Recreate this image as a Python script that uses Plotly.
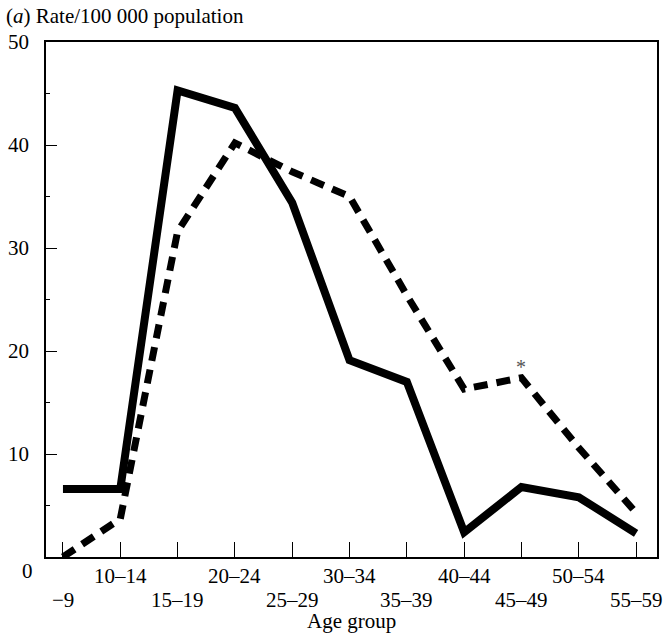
import plotly.graph_objects as go

age_groups = ["−9", "10–14", "15–19", "20–24", "25–29", "30–34",
              "35–39", "40–44", "45–49", "50–54", "55–59"]
solid_rate = [6.6, 6.6, 45.3, 43.6, 34.4, 19.1, 17.0, 2.4, 6.8, 5.8, 2.3]
dashed_rate = [0.0, 3.7, 31.6, 40.2, 37.4, 35.0, 25.4, 16.3, 17.4, 10.6, 4.3]
y_ticks = [10, 20, 30, 40, 50]

FONT = "Liberation Serif"
FS = 21
idx = list(range(len(age_groups)))

W, H = 665, 638
L, R, T, B = 46, 6, 42, 81
PH = H - T - B
PW = W - L - R

fig = go.Figure()
fig.add_trace(go.Scatter(x=idx, y=solid_rate, mode="lines",
                         line=dict(color="black", width=8), showlegend=False))
fig.add_trace(go.Scatter(x=idx, y=dashed_rate, mode="lines",
                         line=dict(color="black", width=7, dash="14px,9px"),
                         showlegend=False))

fig.update_layout(
    width=W, height=H,
    margin=dict(l=L, r=R, t=T, b=B),
    paper_bgcolor="white", plot_bgcolor="white",
    font=dict(family=FONT, size=FS, color="black"),
    xaxis=dict(range=[-0.296, 10.365], tickmode="array", tickvals=idx,
               showticklabels=False, ticks="inside", ticklen=15, tickwidth=1,
               tickcolor="black", showline=True, linecolor="black",
               linewidth=1.5, mirror=True, showgrid=False, zeroline=False),
    yaxis=dict(range=[0, 50], tickmode="array", tickvals=y_ticks,
               ticks="inside", ticklen=11, tickwidth=1, tickcolor="black",
               minor=dict(tickvals=[5, 15, 25, 35, 45], ticks="inside",
                          ticklen=4, tickcolor="black", showgrid=False),
               showline=True, linecolor="black", linewidth=1.5, mirror=True,
               showgrid=False, zeroline=False, ticklabelstandoff=11),
)

# x tick labels on two staggered rows
for i, g in enumerate(age_groups):
    row_y = 19 if i % 2 == 1 else 43
    fig.add_annotation(text=g, x=i, xref="x", yref="paper", y=-row_y / PH,
                       xanchor="center", yanchor="middle", showarrow=False,
                       font=dict(family=FONT, size=FS))

fig.add_annotation(text="Age group", xref="paper", yref="paper",
                   x=0.5, y=-64 / PH, xanchor="center", yanchor="middle",
                   showarrow=False, font=dict(family=FONT, size=FS))
fig.add_annotation(text="(<i>a</i>) Rate/100 000 population", xref="paper",
                   yref="paper", x=-(L - 4) / PW, y=(PH + 26) / PH,
                   xanchor="left", yanchor="middle", showarrow=False,
                   font=dict(family=FONT, size=FS))
fig.add_annotation(text="0", xref="paper", yref="paper",
                   x=-18.5 / PW, y=-14 / PH,
                   xanchor="center", yanchor="middle", showarrow=False,
                   font=dict(family=FONT, size=FS))
fig.add_annotation(text="*", x=8, y=dashed_rate[8], yshift=11,
                   showarrow=False, font=dict(family=FONT, size=20, color="#555"))

fig.write_html(
    "out.html",
    config={"displayModeBar": False},
    post_script="document.body.style.margin='0';document.body.style.overflow='hidden';",
)
